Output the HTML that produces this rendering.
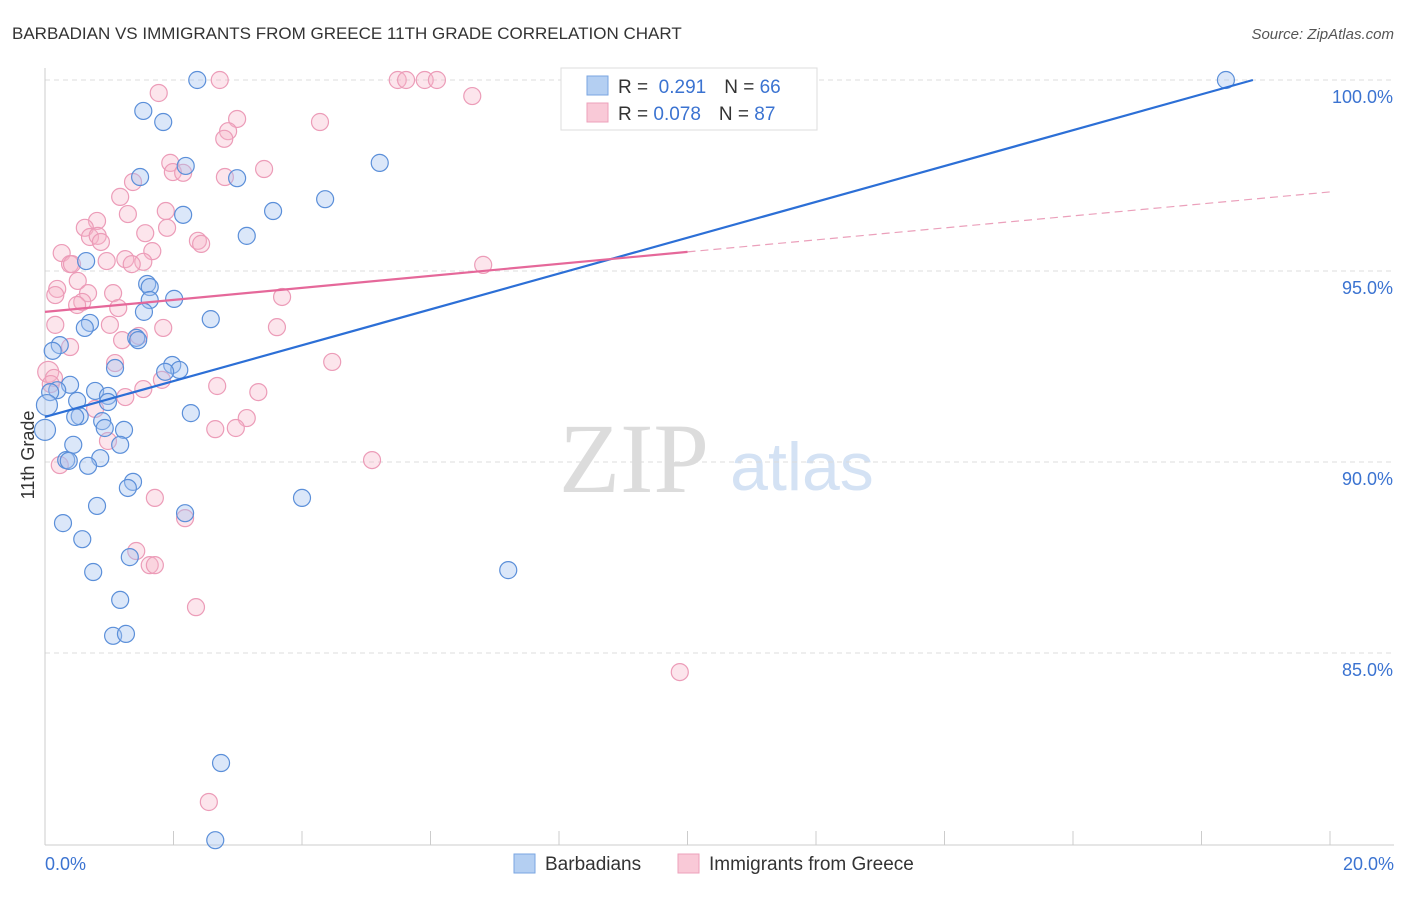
<!DOCTYPE html>
<html><head><meta charset="utf-8"><style>
body{margin:0;background:#fff;font-family:"Liberation Sans",sans-serif;}
svg text{font-family:"Liberation Sans",sans-serif;}
</style></head><body>
<svg id="chart" width="1406" height="892" viewBox="0 0 1406 892" xmlns="http://www.w3.org/2000/svg">
<text x="12" y="39" font-size="17" fill="#333">BARBADIAN VS IMMIGRANTS FROM GREECE 11TH GRADE CORRELATION CHART</text>
<text x="1394" y="39" font-size="15" fill="#555" font-style="italic" text-anchor="end">Source: ZipAtlas.com</text>
<text x="634" y="492" font-size="100" fill="#dcdcdc" text-anchor="middle" style="font-family:'Liberation Serif',serif">ZIP</text>
<text x="802" y="490" font-size="68" fill="#d4e2f4" text-anchor="middle">atlas</text>
<g id="grid"></g><g id="axes"></g><g id="pts"></g><g id="lines"></g>
<text x="34" y="455" font-size="18" fill="#333" text-anchor="middle" transform="rotate(-90 34 455)">11th Grade</text>
<text x="45" y="870" font-size="18" fill="#3b73d1">0.0%</text>
<text x="1394" y="870" font-size="18" fill="#3b73d1" text-anchor="end">20.0%</text>
<g>
<rect x="561" y="68" width="256" height="62" fill="#fff" stroke="#ddd"/>
<rect x="587" y="76" width="21" height="19" fill="#b4cff2" stroke="#7aa6e2"/>
<rect x="587" y="103" width="21" height="19" fill="#f9c9d7" stroke="#eda1bb"/>
<text x="618" y="93" font-size="19" fill="#333">R = <tspan fill="#3b73d1">&#160;0.291</tspan><tspan dx="18">N = </tspan><tspan fill="#3b73d1">66</tspan></text>
<text x="618" y="120" font-size="19" fill="#333">R = <tspan fill="#3b73d1">0.078</tspan><tspan dx="18">N = </tspan><tspan fill="#3b73d1">87</tspan></text>
</g>
<g>
<rect x="514" y="854" width="21" height="19" fill="#b4cff2" stroke="#7aa6e2"/>
<text x="545" y="870" font-size="19" fill="#333">Barbadians</text>
<rect x="678" y="854" width="21" height="19" fill="#f9c9d7" stroke="#eda1bb"/>
<text x="709" y="870" font-size="19" fill="#333">Immigrants from Greece</text>
</g>
</svg>
<script>
const yTicks=[100,95,90,85];
const yTickLabels=["100.0%","95.0%","90.0%","85.0%"];
const xTicks=[0,2,4,6,8,10,12,14,16,18,20];
const blueX=[2.37,1.53,1.84,2.19,1.48,2.99,5.21,2.15,3.55,4.36,3.14,0.64,1.59,1.63,1.63,2.01,1.54,0.70,0.62,2.58,1.42,1.45,0.23,0.12,1.98,2.09,1.87,1.09,0.39,0.19,0.08,0.03,0.78,0.98,0.98,0.50,0.54,0.47,2.27,0.89,0.93,1.23,1.17,0.44,0.33,0.37,0.86,0.67,1.37,1.29,4.00,0.81,2.18,0.28,0.58,1.32,0.75,7.21,1.17,1.06,1.26,2.74,2.65,18.38,0];
const blueY=[100,99.19,98.90,97.75,97.46,97.43,97.83,96.47,96.57,96.88,95.92,95.26,94.66,94.58,94.24,94.27,93.93,93.64,93.51,93.74,93.25,93.19,93.06,92.91,92.54,92.41,92.36,92.46,92.02,91.88,91.83,91.49,91.86,91.73,91.57,91.60,91.20,91.18,91.28,91.07,90.89,90.84,90.45,90.45,90.05,90.03,90.10,89.90,89.48,89.32,89.06,88.85,88.66,88.40,87.98,87.51,87.12,87.17,86.39,85.45,85.50,82.12,80.10,100,90.84];
const pinkX=[2.72,5.49,5.62,5.91,6.10,1.77,6.65,4.28,2.99,2.85,2.79,1.95,1.99,2.15,3.41,2.80,1.37,1.17,1.88,1.29,0.81,0.62,1.90,1.56,0.70,0.82,0.87,2.38,2.43,1.67,0.26,0.39,1.25,0.96,1.53,1.35,0.42,0.51,0.19,0.16,0.67,1.06,0.58,0.50,3.69,1.14,6.82,0.16,1.01,1.84,3.61,1.46,1.20,0.39,4.47,1.09,0.05,1.82,0.14,0.09,2.68,1.53,3.32,1.25,0.78,3.14,2.65,2.97,0.98,5.09,0.23,1.71,2.18,1.42,1.63,1.71,2.35,9.88,2.55];
const pinkY=[100,100,100,100,100,99.66,99.58,98.90,98.98,98.66,98.46,97.83,97.59,97.57,97.67,97.46,97.33,96.94,96.57,96.49,96.31,96.13,96.13,95.99,95.89,95.92,95.76,95.79,95.71,95.52,95.47,95.18,95.31,95.26,95.24,95.18,95.18,94.74,94.53,94.37,94.42,94.42,94.19,94.11,94.32,94.03,95.16,93.59,93.59,93.51,93.53,93.30,93.19,93.01,92.62,92.59,92.36,92.15,92.20,92.04,91.99,91.91,91.83,91.70,91.39,91.15,90.86,90.89,90.55,90.05,89.92,89.06,88.53,87.67,87.30,87.30,86.20,84.50,81.10];
const blueTrend=[91.18,100];
const blueTrendX=[0,18.8];
const pinkTrend=[93.93,97.07];
const pinkSolidEnd=10;
const NS="http://www.w3.org/2000/svg";
const X=v=>45+v*64.25;
const Y=v=>80+(100-v)*38.2;
function mk(tag,attrs,parent){const e=document.createElementNS(NS,tag);for(const k in attrs)e.setAttribute(k,attrs[k]);parent.appendChild(e);return e;}
const grid=document.getElementById('grid'),axes=document.getElementById('axes'),pts=document.getElementById('pts'),lines=document.getElementById('lines');
yTicks.forEach((t,i)=>{
  const l=mk('line',{x1:45,x2:1394,y1:Y(t),y2:Y(t),stroke:'#dcdcdc','stroke-dasharray':'5,4'},grid);
  
  
  const tx=mk('text',{x:1393,y:Y(t)+23,'font-size':18,fill:'#3b73d1','text-anchor':'end'},grid);
  tx.textContent=yTickLabels[i];
  
  
});
const ya=mk('line',{x1:45,x2:45,y1:68,y2:845,stroke:'#ccc'},axes);


const xa=mk('line',{x1:45,x2:1394,y1:845,y2:845,stroke:'#ccc'},axes);


xTicks.forEach(t=>{
  const l=mk('line',{x1:X(t),x2:X(t),y1:831,y2:845,stroke:'#ccc'},axes);
  
  
});
function drawPts(xs,ys,fill,stroke,name){
  xs.forEach((x,i)=>{
    const r=(x<0.06)?10.5:8.5;
    const c=mk('circle',{cx:X(x),cy:Y(ys[i]),r:r,fill:fill,stroke:stroke,'stroke-width':1.2},pts);
    
    
  });
}
drawPts(pinkX,pinkY,'rgba(246,180,200,0.35)','#ec9cb8','greece-point');
drawPts(blueX,blueY,'rgba(164,194,240,0.4)','#5b8fd9','barbadian-point');
const bl=mk('line',{x1:X(blueTrendX[0]),y1:Y(blueTrend[0]),x2:X(blueTrendX[1]),y2:Y(blueTrend[1]),stroke:'#2c6fd6','stroke-width':2.2},lines);


const py=x=>pinkTrend[0]+(pinkTrend[1]-pinkTrend[0])*x/20;
const pl=mk('line',{x1:X(0),y1:Y(py(0)),x2:X(pinkSolidEnd),y2:Y(py(pinkSolidEnd)),stroke:'#e5689a','stroke-width':2.2},lines);


const pd=mk('line',{x1:X(pinkSolidEnd),y1:Y(py(pinkSolidEnd)),x2:X(20),y2:Y(py(20)),stroke:'#eba0bb','stroke-width':1.2,'stroke-dasharray':'8,5'},lines);


</script>
</body></html>
